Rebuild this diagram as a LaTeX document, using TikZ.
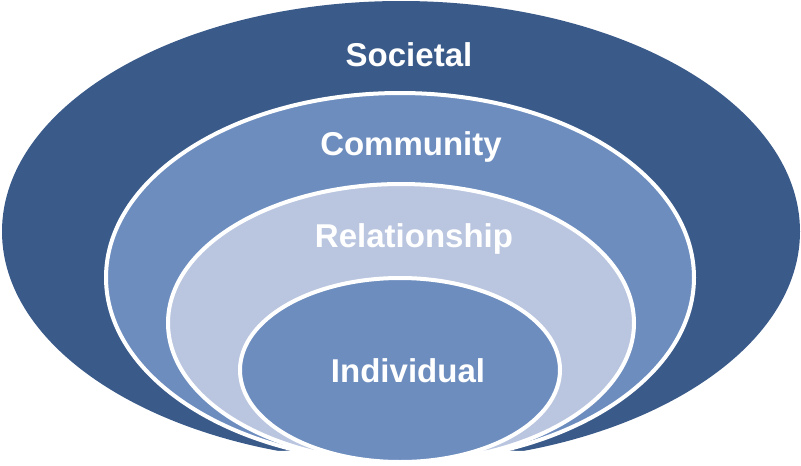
\documentclass[tikz,border=0pt]{standalone}
\usepackage{fontspec}
\setmainfont{Liberation Sans}
\usepackage{tikz}

\definecolor{societalblue}{RGB}{58,91,138}
\definecolor{communityblue}{RGB}{109,141,191}
\definecolor{relationblue}{RGB}{186,198,224}
\definecolor{individualblue}{RGB}{109,141,191}

\tikzset{
  ring/.style={draw=white, line width=4pt},
  ringtext/.style={text=white, anchor=base, inner sep=0pt,
    font=\bfseries\fontsize{33}{33}\selectfont}
}

\begin{document}
\begin{tikzpicture}[x=1pt, y=-1pt]

  % Page frame
  \fill[white] (0,0) rectangle (801,466);
  \useasboundingbox (0,0) rectangle (801,466);

  % Nested layers, all touching at the bottom
  \fill[societalblue] (401,231.5) ellipse [x radius=399pt, y radius=230.5pt];
  \draw[ring, fill=communityblue] (400,277.5) ellipse [x radius=294pt, y radius=184.5pt];
  \draw[ring, fill=relationblue]  (401,323) ellipse [x radius=233pt, y radius=139pt];

  % Cut the tails off below the inner layer
  \fill[white] (200,452) .. controls (400,449) .. (600,452) -- (600,466) -- (200,466) -- cycle;

  \draw[ring, fill=individualblue] (400,370) ellipse [x radius=160pt, y radius=92pt];

  % Layer names
  \node[ringtext] (societal)     at (409,66)  {Societal};
  \node[ringtext] (community)    at (411,155) {Community};
  \node[ringtext] (relationship) at (414,247) {Relationship};
  \node[ringtext] (individual)   at (408,382) {Individual};

\end{tikzpicture}
\end{document}
